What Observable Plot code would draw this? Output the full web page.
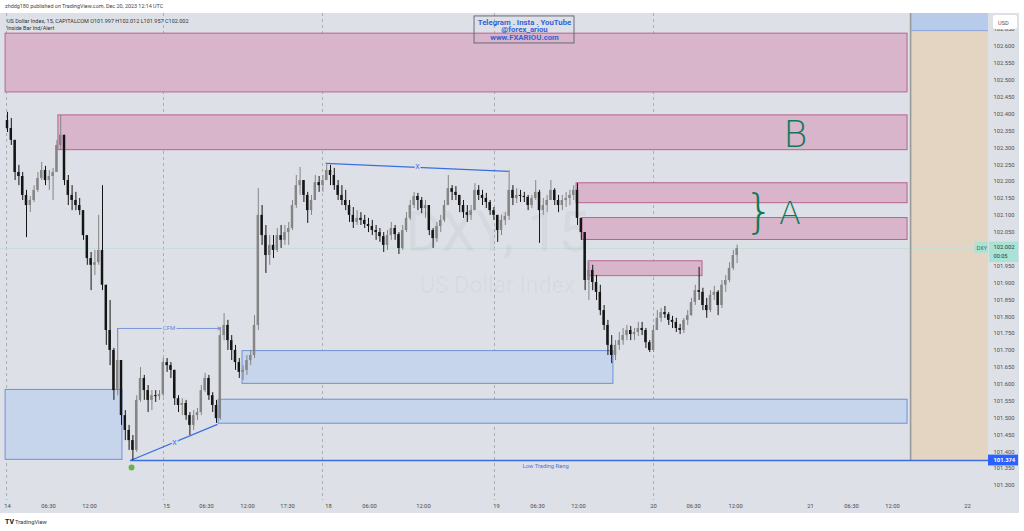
<!DOCTYPE html>
<html><head><meta charset="utf-8">
<script src="https://cdn.jsdelivr.net/npm/d3@7"></script>
<script src="https://cdn.jsdelivr.net/npm/@observablehq/plot@0.6"></script>
<style>
body{margin:0;background:#fff;width:1024px;height:531px;overflow:hidden;position:relative;font-family:Roboto,"DejaVu Sans",sans-serif;}
#chart{position:absolute;left:0;top:13px;}
#overlay{position:absolute;left:0;top:0;pointer-events:none;}
</style></head><body>
<div id="chart"></div>
<svg id="overlay" width="1024" height="531"></svg>
<script>
// ---------- candle data (30-min aggregation of the 15-min chart) ----------
const openFirst = 102.381;
const high = [
102.405,102.387,102.322,102.248,102.227,102.174,102.156,102.188,102.227,102.257,
102.245,102.233,102.239,102.322,102.396,102.337,102.218,102.188,102.168,102.150,
102.114,102.040,101.990,101.996,102.100,102.188,101.893,101.848,101.706,101.765,
101.670,101.522,101.478,101.448,101.566,101.649,101.626,101.596,101.581,101.581,
101.581,101.676,101.676,101.664,101.641,101.566,101.557,101.552,101.516,101.522,
101.528,101.596,101.632,101.626,101.575,101.552,101.768,101.809,101.789,101.744,
101.715,101.676,101.655,101.685,101.700,101.803,102.179,102.129,102.070,102.040,
102.040,102.061,102.070,102.070,102.079,102.144,102.218,102.242,102.203,102.168,
102.159,102.218,102.215,102.218,102.254,102.248,102.239,102.203,102.188,102.174,
102.144,102.123,102.114,102.108,102.100,102.091,102.085,102.070,102.061,102.049,
102.055,102.079,102.070,102.049,102.070,102.108,102.144,102.168,102.165,102.153,
102.144,102.129,102.061,102.079,102.100,102.144,102.218,102.188,102.185,102.159,
102.144,102.129,102.129,102.194,102.188,102.174,102.165,102.144,102.123,102.100,
102.100,102.108,102.233,102.188,102.179,102.174,102.168,102.159,102.159,102.203,
102.174,102.150,102.159,102.203,102.179,102.159,102.159,102.168,102.174,102.188,
102.194,102.091,102.049,101.960,101.952,101.922,101.893,101.833,101.789,101.744,
101.729,101.753,101.765,101.774,101.771,101.765,101.783,101.783,101.765,101.729,
101.774,101.818,101.824,101.830,101.812,101.801,101.795,101.777,101.795,101.818,
101.854,101.893,101.946,101.884,101.854,101.877,101.890,101.877,101.907,101.922,
101.960,101.996,102.012];
const low = [
102.345,102.307,102.203,102.188,102.144,102.034,102.108,102.138,102.168,102.203,
102.188,102.174,102.144,102.227,102.292,102.188,102.129,102.114,102.114,102.100,
102.026,101.952,101.877,101.922,101.952,101.877,101.715,101.655,101.552,101.566,
101.478,101.433,101.404,101.374,101.398,101.546,101.552,101.516,101.522,101.546,
101.552,101.563,101.635,101.617,101.537,101.516,101.507,101.493,101.448,101.463,
101.493,101.507,101.575,101.552,101.516,101.484,101.493,101.729,101.700,101.670,
101.641,101.617,101.611,101.626,101.655,101.676,101.759,102.011,101.928,101.952,
101.972,101.990,102.002,102.011,102.011,102.055,102.120,102.159,102.138,102.076,
102.100,102.144,102.168,102.168,102.209,102.188,102.174,102.144,102.129,102.114,
102.079,102.061,102.070,102.070,102.061,102.049,102.040,102.026,102.020,101.990,
101.996,102.026,102.026,101.984,101.996,102.049,102.085,102.120,102.114,102.105,
102.091,102.040,102.002,102.020,102.049,102.079,102.129,102.144,102.144,102.108,
102.091,102.079,102.085,102.114,102.144,102.129,102.120,102.100,102.085,102.020,
102.040,102.070,102.085,102.129,102.135,102.138,102.138,102.114,102.120,102.144,
102.017,102.100,102.108,102.144,102.129,102.108,102.114,102.123,102.129,102.144,
102.070,102.026,101.877,101.848,101.877,101.848,101.803,101.759,101.685,101.661,
101.670,101.700,101.715,101.729,101.729,101.729,101.741,101.744,101.706,101.694,
101.694,101.759,101.783,101.795,101.774,101.765,101.753,101.747,101.750,101.774,
101.801,101.833,101.848,101.818,101.795,101.812,101.848,101.803,101.824,101.872,
101.901,101.937,101.957];
const close = [
102.357,102.322,102.227,102.215,102.159,102.129,102.144,102.174,102.209,102.233,
102.203,102.215,102.227,102.307,102.337,102.203,102.159,102.144,102.129,102.114,
102.040,101.972,101.952,101.960,101.996,101.893,101.759,101.700,101.581,101.670,
101.507,101.463,101.433,101.404,101.552,101.617,101.581,101.552,101.566,101.563,
101.569,101.664,101.655,101.641,101.557,101.537,101.543,101.507,101.478,101.507,
101.516,101.581,101.617,101.566,101.537,101.498,101.744,101.774,101.729,101.700,
101.664,101.635,101.641,101.670,101.685,101.774,102.100,102.040,101.981,102.011,
101.996,102.040,102.026,102.049,102.061,102.129,102.188,102.203,102.159,102.114,
102.144,102.197,102.188,102.203,102.233,102.218,102.188,102.159,102.144,102.129,
102.100,102.079,102.091,102.085,102.073,102.067,102.055,102.049,102.037,102.011,
102.040,102.061,102.043,102.002,102.055,102.091,102.129,102.156,102.144,102.120,
102.129,102.055,102.031,102.067,102.085,102.129,102.179,102.168,102.159,102.129,
102.108,102.100,102.114,102.174,102.159,102.150,102.138,102.114,102.100,102.055,
102.085,102.097,102.174,102.150,102.159,102.156,102.153,102.129,102.150,102.168,
102.114,102.129,102.144,102.174,102.144,102.129,102.144,102.150,102.159,102.174,
102.091,102.049,101.907,101.937,101.901,101.872,101.818,101.774,101.715,101.685,
101.715,101.729,101.744,101.759,101.747,101.753,101.765,101.759,101.723,101.700,
101.759,101.795,101.812,101.806,101.789,101.783,101.765,101.759,101.789,101.803,
101.842,101.877,101.872,101.833,101.818,101.863,101.872,101.833,101.893,101.907,
101.943,101.981,102.002];
const barsPerCandle = 2;           // each candle = two 15-min bars

// ---------- time axis (bar index, 15-min bars from Dec 14 open) ----------
const timeTickBars   = [0,21.6,43.2,83.7,104.7,126.3,147.4,168.9,190.5,218.9,257.4,278.9,300.5,340,361.1,383.2,422.6,444.2,465.8,505.3];
const timeTickLabels = ["14","06:30","12:00","15","06:30","12:00","17:30","18","06:00","12:00","19","06:30","12:00","20","06:30","12:00","21","06:30","12:00","22"];
const sessionBreakBars = [-0.5,82.1,165.8,256.3,340];

// ---------- price axis ----------
const priceTicks = [101.30,101.35,101.40,101.45,101.50,101.55,101.60,101.65,101.70,101.75,101.80,101.85,101.90,101.95,102.00,
                    102.05,102.10,102.15,102.20,102.25,102.30,102.35,102.40,102.45,102.50,102.55,102.60,102.65];
const lastPrice = 102.002;
const lowPrice = 101.374;

// ---------- drawings: [startBar, endBar, top, bottom] ----------
const supplyZones = [
  [-1, 473.7, 102.638, 102.464],
  [26.8, 473.7, 102.396, 102.293],
  [299.5, 473.7, 102.195, 102.136],
  [302.6, 473.7, 102.092, 102.027],
  [305.8, 365.8, 101.964, 101.920]];
const demandZones = [
  [-1, 60.5, 101.583, 101.376],
  [123.7, 318.9, 101.698, 101.601],
  [111.1, 473.7, 101.554, 101.483]];
const rangeBox = [475.3, 516.3, 101.374, 102.647];   // beige projection box
// trend lines [x1, y1, x2, y2]
const xLines = [[64.7, 101.374, 110.5, 101.481],[167.4, 102.254, 263.7, 102.230]];
const xLabels = [[87.9, 101.428],[215.8, 102.245]];
const cfm = [57.9, 112.1, 101.765];
const lowLineStart = 64.7;
const lowLabel = [283.2, 101.356, "Low Trading Rang"];
const dotPoint = [65.3, 101.353];
const notes = [["B", 414.7, 102.338, 37],["}", 395.6, 102.108, 46],["A", 411.8, 102.106, 32]];
const promoText = "Telegram . Insta . YouTube\n@forex_ariou\nwww.FXARIOU.com";
const promoBox = [245.8, 298.4, 102.609, 102.689];
const promoPos = [272.1, 102.6495];

// ---------- build ----------
const candles = close.map((c, i) => {
  const o = i === 0 ? openFirst : close[i - 1];
  return {bar: i * barsPerCandle, open: o, close: c,
          high: Math.max(high[i], o, c), low: Math.min(low[i], o, c), up: c >= o};
});
const up = candles.filter(d => d.up), dn = candles.filter(d => !d.up);
const UP = "#858585", DN = "#151515";
const BLUE = "#3a6ee0";
const zoneObj = a => a.map(([s, e, t, b]) => ({s, e, t, b}));
const xEdge = 516.3;      // right edge of pane in bar units
const axR = 532.1;        // right edge of price scale

const chart = Plot.plot({
  width: 1019, height: 500,
  marginTop: 0, marginBottom: 13, marginLeft: 0, marginRight: 31,
  x: {domain: [-3.684, xEdge], axis: null},
  y: {domain: [101.2556, 102.6977], axis: null},
  style: {background: "#dde0e7", fontFamily: "Roboto, sans-serif", overflow: "visible"},
  marks: [
    Plot.rect([rangeBox], {x1: d => d[0], x2: d => d[1], y1: d => d[2], y2: d => d[3], fill: "#e4d5c3"}),
    Plot.rect([rangeBox], {x1: d => d[0], x2: d => d[1], y1: d => d[3], y2: 102.6977, fill: "#b9cbea"}),
    Plot.ruleY([rangeBox], {x1: d => d[0], x2: d => d[1], y: d => d[3], stroke: "#86a3dd"}),
    Plot.ruleX(sessionBreakBars, {x: d => d, stroke: "#a9adb5", strokeDasharray: "3,3"}),
    Plot.ruleY([lastPrice], {y: d => d, stroke: "#c8dcd9", strokeWidth: 1}),
    Plot.text(["DXY, 15"], {x: 257.9, y: 102.046, text: d => d, fontSize: 55, fill: "#000", fillOpacity: 0.035}),
    Plot.text(["US Dollar Index"], {x: 257.9, y: 101.892, text: d => d, fontSize: 23, fill: "#000", fillOpacity: 0.035}),
    Plot.rect(zoneObj(supplyZones), {x1: "s", x2: "e", y1: "t", y2: "b", fill: "#d8b5ca", stroke: "#b8648f", strokeWidth: 1}),
    Plot.rect(zoneObj(demandZones), {x1: "s", x2: "e", y1: "t", y2: "b", fill: "#c6d5ec", stroke: "#6f91d6", strokeWidth: 1}),
    Plot.ruleX([rangeBox], {x: d => d[0], y1: d => d[2], y2: 102.6977, stroke: "#9a9a9a", strokeWidth: 1.6}),
    Plot.ruleY([lowPrice], {y: d => d, x1: lowLineStart, x2: xEdge, stroke: BLUE, strokeWidth: 1.5}),
    Plot.link(xLines, {x1: d => d[0], y1: d => d[1], x2: d => d[2], y2: d => d[3], stroke: BLUE, strokeWidth: 1.3}),
    Plot.arrow([cfm], {x1: d => d[0], x2: d => d[1], y1: d => d[2], y2: d => d[2], stroke: "#6f8fd8", strokeWidth: 0.9, headLength: 5, bend: 0}),
    Plot.ruleX(up, {x: "bar", y1: "low", y2: "high", stroke: UP, strokeWidth: 1}),
    Plot.ruleX(dn, {x: "bar", y1: "low", y2: "high", stroke: DN, strokeWidth: 1}),
    Plot.rect(up, {x1: d => d.bar - 0.65, x2: d => d.bar + 0.65, y1: "open", y2: "close", fill: UP}),
    Plot.rect(dn, {x1: d => d.bar - 0.65, x2: d => d.bar + 0.65, y1: "open", y2: "close", fill: DN}),
    Plot.dot([dotPoint], {x: d => d[0], y: d => d[1], r: 3, fill: "#6ab04c"}),
    Plot.text(xLabels, {x: d => d[0], y: d => d[1], text: () => "X", fontSize: 7, fill: BLUE, stroke: "#dde0e7", strokeWidth: 3}),
    Plot.text([cfm], {x: d => (d[0] + d[1]) / 2, y: d => d[2], text: () => "CFM", fontSize: 6, fill: "#5f86d8", stroke: "#dde0e7", strokeWidth: 3}),
    Plot.text([lowLabel], {x: d => d[0], y: d => d[1], text: d => d[2], fontSize: 5.8, fill: "#4a73d8"}),
    Plot.text(notes, {x: d => d[1], y: d => d[2], text: d => d[0], fontSize: d => d[3], fontFamily: "DejaVu Sans", fontWeight: 200, fill: "#107a58"}),
    Plot.rect([promoBox], {x1: d => d[0], x2: d => d[1], y1: d => d[2], y2: d => d[3], fill: "none", stroke: "#6b6b78", strokeWidth: 1}),
    Plot.text([promoText], {x: promoPos[0], y: promoPos[1], text: d => d, fontSize: 7.8, lineHeight: 0.97, fontWeight: "bold", fill: "#3464d4"}),
    // time axis labels
    Plot.text(timeTickBars, {x: d => d, frameAnchor: "bottom", dy: 7, text: (d, i) => timeTickLabels[i], fontSize: 5.8, fill: "#4a4a4a"}),
    // price axis labels
    Plot.text(priceTicks, {y: d => d, frameAnchor: "right", dx: 5, textAnchor: "start", text: d => d.toFixed(3), fontSize: 5.8, fill: "#4f4f4f"}),
    // last price badge
    Plot.rect([lastPrice], {x1: xEdge + 0.5, x2: axR, y1: d => d + 0.019, y2: d => d - 0.042, fill: "#a9e3d6"}),
    Plot.rect([lastPrice], {x1: 509.2, x2: xEdge, y1: d => d + 0.019, y2: d => d - 0.014, fill: "#a9e3d6"}),
    Plot.text([lastPrice], {x: 512.8, y: d => d, text: () => "DXY", fontSize: 5.6, fill: "#3f6a62"}),
    Plot.text([lastPrice], {y: d => d, frameAnchor: "right", dx: 5, dy: -1, textAnchor: "start", text: d => d.toFixed(3), fontSize: 5.8, fill: "#2d3a38"}),
    Plot.text([lastPrice], {y: d => d, frameAnchor: "right", dx: 5, dy: 7.5, textAnchor: "start", text: () => "00:05", fontSize: 5.6, fill: "#2d3a38"}),
    // low badge
    Plot.rect([lowPrice], {x1: xEdge, x2: axR, y1: d => d + 0.016, y2: d => d - 0.016, fill: "#2962ff"}),
    Plot.text([lowPrice], {y: d => d, frameAnchor: "right", dx: 5, textAnchor: "start", text: d => d.toFixed(3), fontSize: 5.8, fill: "#fff", fontWeight: "bold"})
  ]
});
document.getElementById("chart").appendChild(chart);

// ---------- header / legend / footer ----------
const ov = d3.select("#overlay");
const txt = (x, y, s, size, fill, weight) => ov.append("text").attr("x", x).attr("y", y).text(s)
  .attr("font-size", size).attr("fill", fill).attr("font-weight", weight || "normal")
  .attr("font-family", "Roboto, sans-serif");
txt(5, 8.3, "zhddg180 published on TradingView.com, Dec 20, 2023 12:14 UTC", 5.4, "#444");
txt(7, 22.6, "US Dollar Index, 15, CAPITALCOM  O101.997  H102.012  L101.957  C102.002", 5.5, "#333");
txt(7, 30.3, "Inside Bar Ind/Alert", 5.5, "#333");
ov.append("rect").attr("x", 993).attr("y", 15).attr("width", 24).attr("height", 14).attr("rx", 2).attr("fill", "#fff");
txt(998, 24.5, "USD", 5.6, "#555");
txt(5, 524, "TV", 7, "#131722", "bold");
txt(15, 524, "TradingView", 5.8, "#333");
</script>
</body></html>
